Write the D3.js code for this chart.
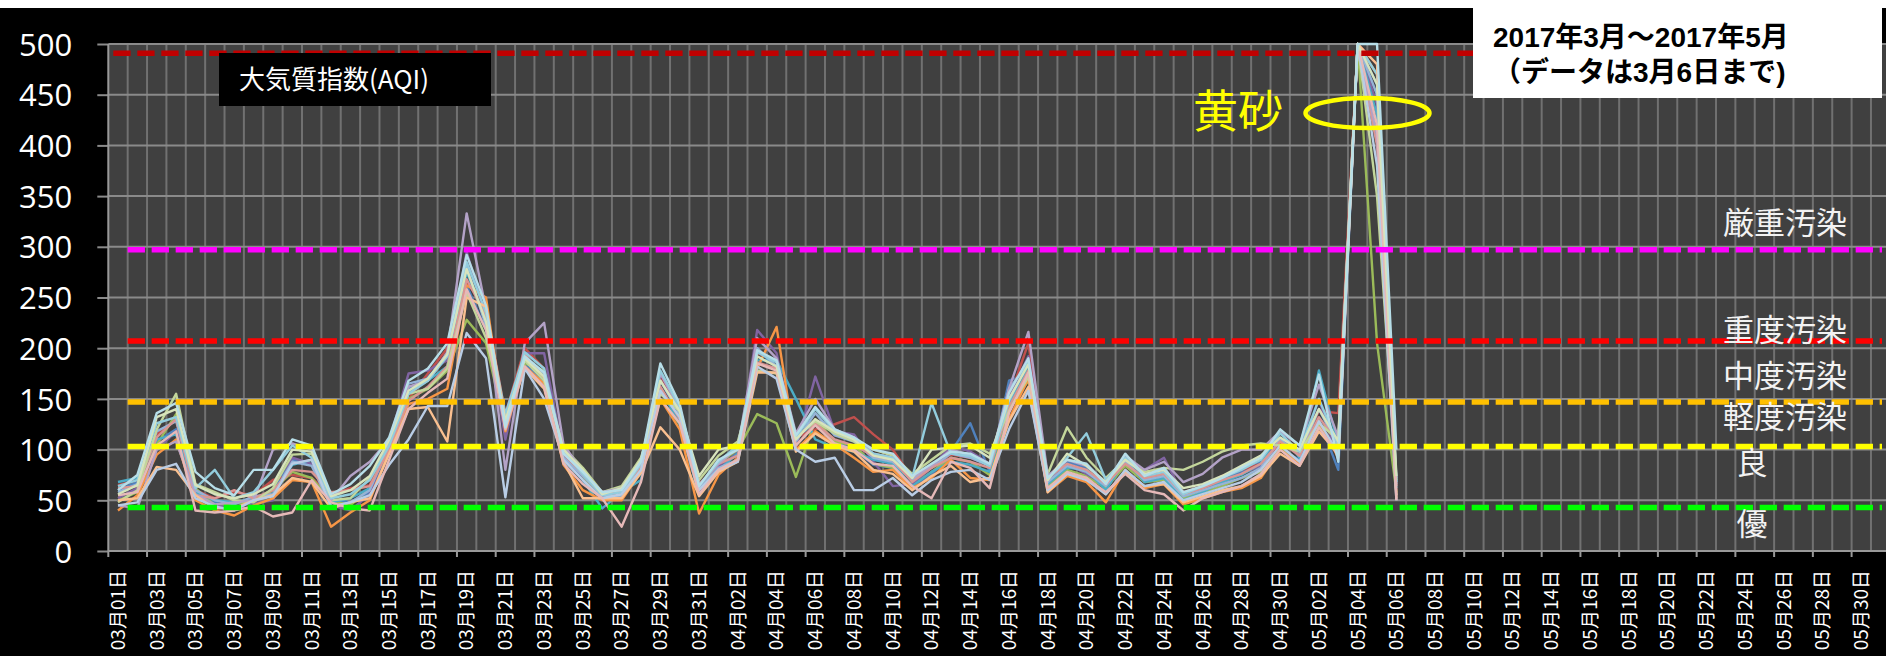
<!DOCTYPE html>
<html><head><meta charset="utf-8">
<script src="https://cdn.jsdelivr.net/npm/d3@7/dist/d3.min.js"></script>
<style>html,body{margin:0;padding:0;background:#000;overflow:hidden}svg{display:block}</style>
</head><body>
<svg id="chart" width="1886" height="656"></svg>
<script>
// ---------- data ----------
const months = ["03", "04", "05"];
const monthDays = [31, 30, 31];
const yTicks = [0, 50, 100, 150, 200, 250, 300, 350, 400, 450, 500];
const thresholdValues = [491, 297, 207, 147, 103, 43];
const thresholdColors = ["#C00000", "#FF00FF", "#FF0000", "#FFC000", "#FFFF00", "#00FF00"];
const zoneLabels = ["厳重汚染", "重度汚染", "中度汚染", "軽度汚染", "良", "優"];
const zoneLabelValues = [324, 218, 173, 132, 87, 27];
const titleText = "大気質指数(AQI)";
const periodLines = ["2017年3月～2017年5月", "（データは3月6日まで)"];
const noteText = "黄砂";
const noteValue = 433;

const seriesColors = ["#4F81BD", "#C0504D", "#9BBB59", "#8064A2", "#4BACC6", "#F79646",
  "#95B3D7", "#D99694", "#C3D69B", "#B3A2C7", "#93CDDD", "#FAC090",
  "#B9CDE5", "#E6B9B8", "#D7E4BD", "#B7DEE8"];

const s01 = [60,68,108,120,52,48,42,52,58,90, 85,50,48,58,100,160,172,190,262,218, 130,185,165,90,70,50,55,80,160,128, 58,80,98,200,180,110,128,108,100,85, 82,62,75,98,126,78,168,175,62,88, 82,60,90,72,75,52,62,70,78,88, 100,90,130,80,500,460,55];
const s02 = [65,70,115,130,60,52,58,55,70,75, 72,55,62,65,110,150,175,200,265,240, 135,200,180,100,78,55,56,85,170,138, 62,88,100,195,188,112,120,125,132,115, 100,72,85,95,92,85,150,205,72,85, 80,66,92,74,78,58,64,74,80,86, 106,96,138,136,500,480,62];
const s03 = [50,58,105,135,62,45,47,48,60,78, 72,50,45,62,104,150,160,178,228,205, 120,185,178,98,72,52,60,86,150,125, 62,86,100,135,126,73,130,108,104,86, 82,65,78,92,88,75,140,168,64,80, 74,62,84,68,70,52,58,64,72,78, 102,86,124,98,500,205,58];
const s04 = [52,62,100,118,55,44,44,47,50,92, 86,45,40,56,108,175,178,188,295,230, 110,195,195,95,70,52,60,84,175,140, 58,84,96,218,195,102,172,118,115,88, 64,66,82,104,98,86,152,192,70,86, 76,65,88,80,92,55,62,68,76,84, 112,95,150,90,500,440,60];
const s05 = [68,72,110,115,58,50,48,52,55,85, 90,48,52,62,102,158,168,182,275,228, 125,188,170,90,70,42,58,70,160,125, 55,80,96,188,188,150,110,102,98,90, 86,64,78,88,85,78,144,180,66,82, 80,60,90,68,72,50,58,68,75,86, 118,92,178,104,500,430,62];
const s06 = [40,55,95,110,50,40,35,45,52,70, 68,24,38,50,98,145,150,160,262,250, 118,182,165,85,60,50,50,78,150,120, 37,75,92,180,221,100,118,105,92,78, 80,62,72,90,72,70,130,170,58,74, 68,48,80,62,66,46,52,58,62,72, 100,86,128,92,500,470,52];
const s07 = [58,66,118,128,60,50,46,54,56,88, 84,44,48,60,106,165,170,195,280,222, 130,190,175,92,74,55,54,84,168,135, 62,82,90,200,182,108,136,114,108,92, 88,70,82,96,92,84,160,185,68,84, 78,64,88,70,74,54,60,66,72,82, 110,94,140,102,500,450,66];
const s08 = [62,64,112,130,55,52,60,52,60,80, 78,58,60,64,100,148,162,182,268,232, 124,194,170,96,76,56,60,82,162,130, 66,86,94,186,180,104,126,110,104,94, 90,68,82,92,88,82,142,178,72,86, 80,66,86,72,76,56,62,70,76,86, 108,94,132,106,500,400,64];
const s09 = [48,60,120,155,66,58,50,48,62,95, 96,50,52,72,108,155,160,180,255,210, 132,188,168,102,82,58,64,92,155,138, 70,94,108,178,175,112,128,116,108,100, 94,76,90,104,106,96,138,172,76,122, 92,72,90,78,82,80,88,98,104,106, 104,98,126,110,500,350,70];
const s10 = [45,42,100,108,56,46,48,50,100,106, 100,50,74,88,110,162,168,196,333,238, 80,205,225,105,78,58,62,88,175,140, 65,86,102,210,190,116,150,120,112,96, 92,72,84,100,95,86,160,216,74,90, 84,68,94,80,88,68,76,92,100,100, 118,104,164,112,500,410,72];
const s11 = [64,70,126,132,62,80,52,58,80,104, 92,52,56,70,104,155,168,192,285,235, 135,196,180,98,76,55,58,86,178,142, 64,88,104,196,186,112,140,118,110,96, 92,72,146,96,94,84,148,186,70,92, 116,70,92,74,78,56,64,72,80,90, 116,98,150,104,500,470,68];
const s12 = [50,52,83,80,55,42,42,50,55,72, 68,42,48,52,96,140,142,108,250,241, 128,180,160,88,52,52,52,77,122,100, 54,78,88,176,176,98,116,104,98,80, 76,60,74,84,68,72,128,162,58,76, 72,56,78,64,66,48,54,60,64,74, 96,84,118,96,500,480,55];
const s13 = [45,48,80,86,52,44,40,50,54,86, 90,44,48,55,85,110,143,143,215,190, 53,180,150,90,70,52,56,80,158,132, 60,80,88,182,170,100,88,92,60,60, 72,55,70,78,80,70,120,158,60,76, 70,56,80,64,68,50,56,62,68,80, 104,88,128,96,500,380,50];
const s14 = [55,58,104,118,40,38,40,44,34,38, 70,48,42,40,90,140,156,170,258,218, 120,182,162,86,66,52,24,68,150,126, 56,80,90,185,178,104,124,106,100,86, 84,64,52,88,82,62,136,176,62,78, 72,58,76,60,56,40,52,58,64,76, 100,84,122,94,500,420,50];
const s15 = [56,65,132,140,65,56,52,56,66,100, 98,54,60,74,110,158,170,194,278,226, 128,190,172,100,80,56,62,90,168,138, 74,100,104,192,182,110,130,118,110,94, 90,72,100,102,104,92,150,184,70,96, 84,68,90,76,80,62,66,74,84,94, 112,100,140,108,500,460,74];
const s16 = [60,75,136,146,78,62,55,80,80,110, 104,56,66,84,112,168,180,205,292,242, 122,192,176,96,78,58,60,88,185,145, 64,90,100,198,188,114,142,120,112,100, 96,74,86,98,96,86,156,190,72,90, 86,66,96,74,82,58,64,72,82,92, 120,104,174,88,500,500,100];
const allSeries = [s01,s02,s03,s04,s05,s06,s07,s08,s09,s10,s11,s12,s13,s14,s15,s16];

// ---------- categories ----------
const categories = [];
months.forEach((m, mi) => {
  for (let d = 1; d <= monthDays[mi]; d++) categories.push(m + "月" + String(d).padStart(2, "0") + "日");
});

// ---------- layout ----------
const W = 1886, H = 656;
const plotL = 108.3, plotT = 44, plotB = 551, bandW = 19.37;
const plotR = plotL + categories.length * bandW;
const svg = d3.select("#chart");

svg.append("rect").attr("width", W).attr("height", H).attr("fill", "#000");
svg.append("rect").attr("width", W).attr("height", 8).attr("fill", "#fff");

const x = d3.scaleBand().domain(categories).range([plotL, plotR]).padding(0);
const y = d3.scaleLinear().domain([0, 500]).range([plotB, plotT]);
const cx = c => x(c) + x.bandwidth() / 2;

svg.append("rect").attr("x", plotL).attr("y", plotT).attr("width", plotR - plotL).attr("height", plotB - plotT).attr("fill", "#404040");

// vertical gridlines at band boundaries
const bounds = categories.map(c => x(c)).concat([plotR]);
svg.append("g").selectAll("line").data(bounds.slice(1)).join("line")
  .attr("x1", d => d).attr("x2", d => d).attr("y1", plotT).attr("y2", plotB)
  .attr("stroke", "#717171").attr("stroke-width", 2);

// y axis (labels + ticks) and horizontal gridlines
const yAxis = svg.append("g").attr("transform", `translate(${plotL},0)`)
  .call(d3.axisLeft(y).tickValues(yTicks).tickSize(11).tickPadding(25));
yAxis.select(".domain").remove();
yAxis.selectAll(".tick line").attr("stroke", "#8a8a8a").attr("stroke-width", 2);
yAxis.selectAll(".tick text").attr("fill", "#fff").style("font-family", "'Open Sans', sans-serif").style("font-size", "31px").attr("dy", "0.36em");
svg.append("g").selectAll("line").data(yTicks).join("line")
  .attr("x1", plotL).attr("x2", plotR).attr("y1", d => y(d)).attr("y2", d => y(d))
  .attr("stroke", "#8a8a8a").attr("stroke-width", 2);
// left axis line
svg.append("line").attr("x1", plotL).attr("x2", plotL).attr("y1", plotT).attr("y2", plotB).attr("stroke", "#999").attr("stroke-width", 2);

// x axis
const labelCats = categories.filter((c, i) => i % 2 === 0);
const xAxis = svg.append("g").attr("transform", `translate(0,${plotB})`)
  .call(d3.axisBottom(x).tickValues(labelCats).tickSize(0));
xAxis.select(".domain").remove();
xAxis.selectAll(".tick text")
  .attr("transform", "rotate(-90)").attr("x", -19).attr("y", 0).attr("dy", "0.36em")
  .style("text-anchor", "end").attr("fill", "#fff")
  .style("font-family", "'Noto Sans CJK JP', sans-serif").style("font-size", "19px");
svg.append("g").selectAll("line").data(labelCats.map(c => x(c))).join("line")
  .attr("x1", d => d).attr("x2", d => d).attr("y1", plotB).attr("y2", plotB + 6)
  .attr("stroke", "#999").attr("stroke-width", 2);
svg.append("line").attr("x1", plotL).attr("x2", plotR).attr("y1", plotB).attr("y2", plotB).attr("stroke", "#999").attr("stroke-width", 2);

// data lines
const line = d3.line().x((d, i) => cx(categories[i])).y(d => y(d));
svg.append("g").selectAll("path").data(allSeries).join("path")
  .attr("d", line).attr("fill", "none")
  .attr("stroke", (d, i) => seriesColors[i]).attr("stroke-width", 2.4)
  .attr("stroke-linejoin", "round");

// threshold dashed lines
svg.append("g").selectAll("line").data(thresholdValues).join("line")
  .attr("x1", (d, i) => i === 0 ? plotL + 5 : x(categories[1]))
  .attr("x2", 1882)
  .attr("y1", d => y(d)).attr("y2", d => y(d))
  .attr("stroke", (d, i) => thresholdColors[i]).attr("stroke-width", 5.5)
  .attr("stroke-dasharray", "17.3,6.7");

// zone labels
svg.append("g").selectAll("text").data(zoneLabels).join("text")
  .attr("x", d => d.length > 1 ? 1785 : 1752)
  .attr("y", (d, i) => y(zoneLabelValues[i]))
  .attr("dy", "0.36em").attr("text-anchor", "middle")
  .attr("fill", "#f2f2f2").style("font-family", "'Noto Sans CJK JP', sans-serif").style("font-size", "31px")
  .text(d => d);

// title box
svg.append("rect").attr("x", 219).attr("y", 53).attr("width", 272).attr("height", 53).attr("fill", "#000");
svg.append("text").attr("x", 239).attr("y", 80).attr("dy", "0.36em").attr("fill", "#fff")
  .style("font-family", "'Noto Sans CJK JP', sans-serif").style("font-size", "26px").text(titleText);

// period box
svg.append("rect").attr("x", 1473).attr("y", 0).attr("width", 409).attr("height", 98).attr("fill", "#fff");
svg.append("g").selectAll("text").data(periodLines).join("text")
  .attr("x", 1493).attr("y", (d, i) => 47 + i * 35)
  .attr("fill", "#000").style("font-family", "'Liberation Sans', 'Noto Sans CJK JP', sans-serif")
  .style("font-weight", "bold").style("font-size", "28px").text(d => d);

// 黄砂 annotation
svg.append("text").attr("x", 1193).attr("y", y(noteValue)).attr("dy", "0.36em")
  .attr("fill", "#FFFF00").style("font-family", "'Noto Sans CJK JP', sans-serif").style("font-size", "45px").text(noteText);
svg.append("ellipse").attr("cx", 1367.5).attr("cy", 113).attr("rx", 62).attr("ry", 15)
  .attr("fill", "none").attr("stroke", "#FFFF00").attr("stroke-width", 4.5);
</script>
</body></html>
